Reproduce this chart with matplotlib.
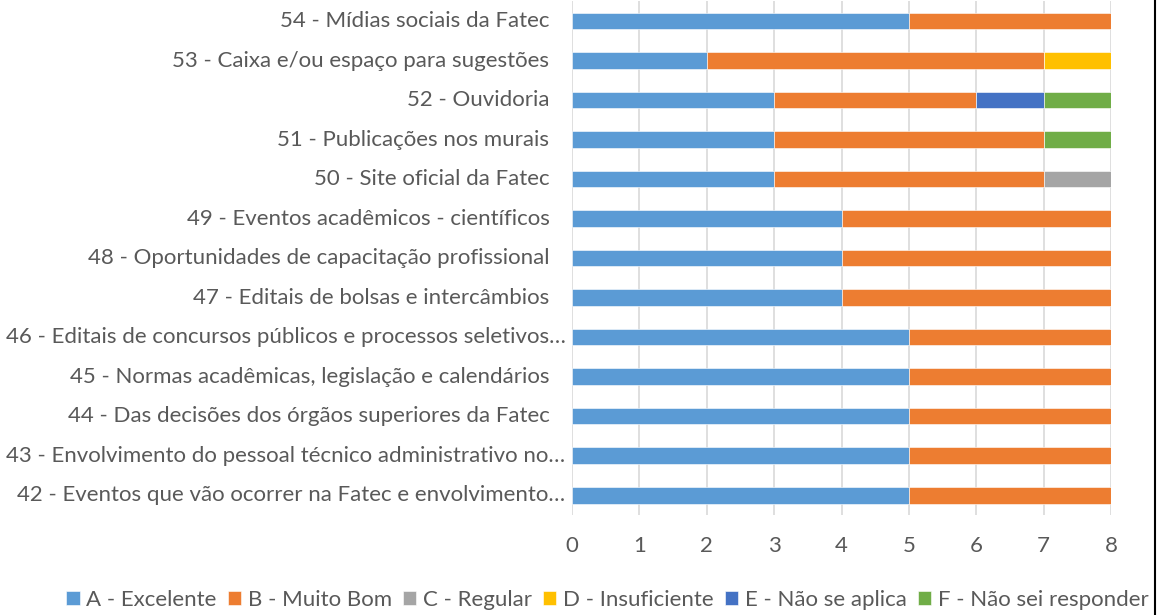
import matplotlib.pyplot as plt
from matplotlib.lines import Line2D
import numpy as np

plt.rcParams['font.family'] = ['Lato', 'DejaVu Sans']

# Data
questions = [
    '54 - Mídias sociais da Fatec',
    '53 - Caixa e/ou espaço para sugestões',
    '52 - Ouvidoria',
    '51 - Publicações nos murais',
    '50 - Site oficial da Fatec',
    '49 - Eventos acadêmicos - científicos',
    '48 - Oportunidades de capacitação profissional',
    '47 - Editais de bolsas e intercâmbios',
    '46 - Editais de concursos públicos e processos seletivos…',
    '45 - Normas acadêmicas, legislação e calendários',
    '44 - Das decisões dos órgãos superiores da Fatec',
    '43 - Envolvimento do pessoal técnico administrativo no…',
    '42 - Eventos que vão ocorrer na Fatec e envolvimento…',
]
a_excelente = [5, 2, 3, 3, 3, 4, 4, 4, 5, 5, 5, 5, 5]
b_muito_bom = [3, 5, 3, 4, 4, 4, 4, 4, 3, 3, 3, 3, 3]
c_regular = [0, 0, 0, 0, 1, 0, 0, 0, 0, 0, 0, 0, 0]
d_insuficiente = [0, 1, 0, 0, 0, 0, 0, 0, 0, 0, 0, 0, 0]
e_nao_aplica = [0, 0, 1, 0, 0, 0, 0, 0, 0, 0, 0, 0, 0]
f_nao_sei = [0, 0, 1, 1, 0, 0, 0, 0, 0, 0, 0, 0, 0]

series = [
    ('A - Excelente', a_excelente, '#5B9BD5'),
    ('B - Muito Bom', b_muito_bom, '#ED7D31'),
    ('C - Regular', c_regular, '#A5A5A5'),
    ('D - Insuficiente', d_insuficiente, '#FFC000'),
    ('E - Não se aplica', e_nao_aplica, '#4472C4'),
    ('F - Não sei responder', f_nao_sei, '#70AD47'),
]

text_color = '#595959'
fs = 16

fig = plt.figure(figsize=(11.66, 6.15), dpi=100)
ax = fig.add_axes([0.4906, 0.1626, 0.9528 - 0.4906, 0.998 - 0.1626])

y = np.arange(len(questions))[::-1]
left = np.zeros(len(questions))
for name, vals, color in series:
    vals = np.array(vals, dtype=float)
    ax.barh(y, vals, left=left, height=0.42, color=color, label=name,
            edgecolor='white', linewidth=0.4, zorder=3)
    left += vals

ax.set_xlim(0, 8)
ax.set_ylim(-0.5, len(questions) - 0.5)
ax.set_xticks(range(0, 9))
ax.grid(axis='x', color='#D9D9D9', linewidth=1.2, zorder=0)
for s in ax.spines.values():
    s.set_visible(False)
ax.tick_params(axis='both', length=0, labelsize=fs, labelcolor=text_color)
ax.tick_params(axis='x', pad=15)
ax.set_yticks([])

# Category labels (truncated ones sit closer to the axis)
for yi, q in zip(y, questions):
    off = -0.012 if q.endswith('…') else -0.042
    ax.text(off, yi, q, transform=ax.get_yaxis_transform(), ha='right',
            va='center', fontsize=fs, color=text_color)

leg = fig.legend(loc='center', bbox_to_anchor=(0.521, 1 - 600 / 615), ncol=6,
                 frameon=False, fontsize=fs, handlelength=0.6,
                 handleheight=0.6, handletextpad=0.3, columnspacing=0.5)
for t in leg.get_texts():
    t.set_color(text_color)

fig.add_artist(Line2D([1155 / 1166] * 2, [0, 1], color='black', linewidth=1.5))

fig.savefig('out.png', dpi=100)
